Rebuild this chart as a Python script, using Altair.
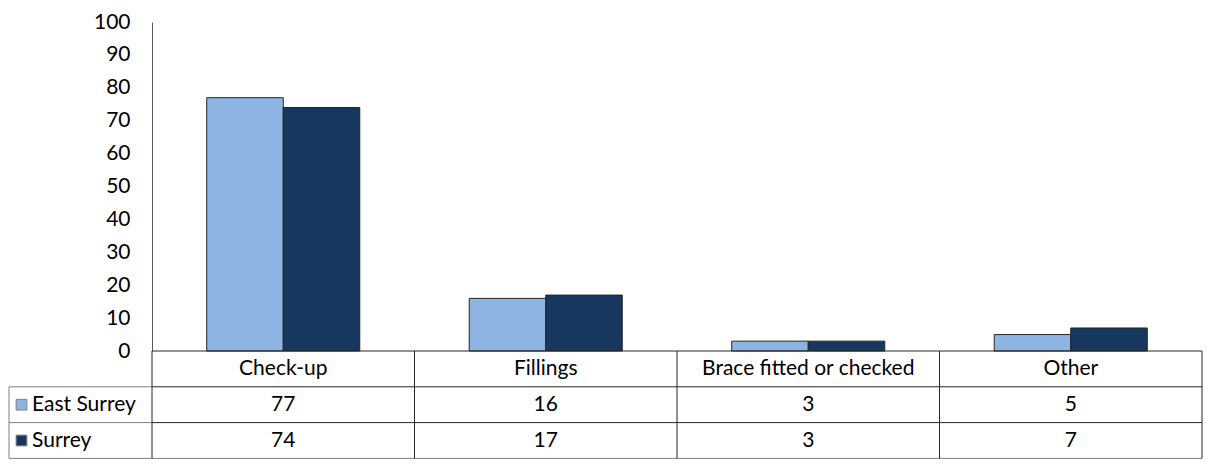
import altair as alt
import pandas as pd

categories = ["Check-up", "Fillings", "Brace fitted or checked", "Other"]
series = ["East Surrey", "Surrey"]
east_surrey = [77, 16, 3, 5]
surrey = [74, 17, 3, 7]
y_ticks = list(range(0, 101, 10))
colors = ["#8EB4E3", "#17375E"]

values = {"East Surrey": east_surrey, "Surrey": surrey}
rows = []
for s in series:
    for c, v in zip(categories, values[s]):
        rows.append({"category": c, "series": s, "value": v})
df = pd.DataFrame(rows)

W, H = 1050, 329
ROW_H = 35.8
LEFT = -143
FONT = "Lato"
FS = 21
line_color = "#262626"
outer_color = "#7f7f7f"

xscale = alt.Scale(domain=categories, paddingInner=0, paddingOuter=0)

bars = alt.Chart(df).mark_bar(stroke="#262626", strokeWidth=1).encode(
    x=alt.X("category:N", sort=categories, scale=xscale, axis=None),
    xOffset=alt.XOffset("series:N", sort=series,
                        scale=alt.Scale(domain=series, paddingInner=0, paddingOuter=0.715)),
    y=alt.Y("value:Q", scale=alt.Scale(domain=[0, 100]),
            axis=alt.Axis(values=y_ticks, grid=False, ticks=False, labelPadding=22,
                          domainColor="#595959", labelFontSize=FS, labelColor="black",
                          labelFont=FONT, title=None)),
    color=alt.Color("series:N", scale=alt.Scale(domain=series, range=colors), legend=None),
)

one = pd.DataFrame({"k": [0]})
cat_df = pd.DataFrame({"category": categories})

layers = [bars]

# category header row
layers.append(alt.Chart(cat_df).mark_text(font=FONT, fontSize=FS, color="black", baseline="middle").encode(
    x=alt.X("category:N", sort=categories, scale=xscale, axis=None),
    y=alt.value(H + ROW_H * 0.5),
    text="category:N",
))

for i, s in enumerate(series):
    yc = H + ROW_H * (i + 1.5)
    sub = df[df["series"] == s]
    layers.append(alt.Chart(sub).mark_text(font=FONT, fontSize=FS, color="black", baseline="middle").encode(
        x=alt.X("category:N", sort=categories, scale=xscale, axis=None),
        text="value:Q",
        y=alt.value(yc),
    ))
    lab = pd.DataFrame({"series": [s]})
    layers.append(alt.Chart(lab).mark_text(font=FONT, fontSize=FS, color="black", baseline="middle", align="left").encode(
        x=alt.value(LEFT + 23),
        y=alt.value(yc),
        text="series:N",
    ))
    layers.append(alt.Chart(lab).mark_point(shape="square", filled=True, size=115, stroke="#7f7f7f", strokeWidth=1, opacity=1).encode(
        x=alt.value(LEFT + 12.5),
        y=alt.value(yc),
        fill=alt.Fill("series:N", scale=alt.Scale(domain=series, range=colors), legend=None),
    ))

# horizontal table lines
layers.append(alt.Chart(one).mark_rule(color=line_color, strokeWidth=1).encode(
    x=alt.value(0), x2=alt.value(W), y=alt.value(H)))
for i in range(1, 3):
    layers.append(alt.Chart(one).mark_rule(color=line_color, strokeWidth=1).encode(
        x=alt.value(0), x2=alt.value(W), y=alt.value(H + ROW_H * i)))
    layers.append(alt.Chart(one).mark_rule(color=outer_color, strokeWidth=1).encode(
        x=alt.value(LEFT), x2=alt.value(0), y=alt.value(H + ROW_H * i)))
layers.append(alt.Chart(one).mark_rule(color=outer_color, strokeWidth=1).encode(
    x=alt.value(LEFT), x2=alt.value(W), y=alt.value(H + ROW_H * 3)))

# vertical table lines
layers.append(alt.Chart(cat_df.iloc[1:]).mark_rule(color=line_color, strokeWidth=1).encode(
    x=alt.X("category:N", sort=categories, scale=xscale, axis=None, bandPosition=0),
    y=alt.value(H), y2=alt.value(H + ROW_H * 3)))
layers.append(alt.Chart(one).mark_rule(color=line_color, strokeWidth=1).encode(
    x=alt.value(W), y=alt.value(H), y2=alt.value(H + ROW_H * 3)))
layers.append(alt.Chart(one).mark_rule(color=line_color, strokeWidth=1).encode(
    x=alt.value(0), y=alt.value(H), y2=alt.value(H + ROW_H * 3)))
layers.append(alt.Chart(one).mark_rule(color=outer_color, strokeWidth=1).encode(
    x=alt.value(LEFT), y=alt.value(H + ROW_H), y2=alt.value(H + ROW_H * 3)))

chart = alt.layer(*layers).properties(
    width=W, height=H,
    padding={"left": 0, "top": 3, "right": 0, "bottom": 0},
).configure(font=FONT).configure_view(strokeWidth=0)

chart.save("out.html", embed_options={"renderer": "svg", "actions": False})
